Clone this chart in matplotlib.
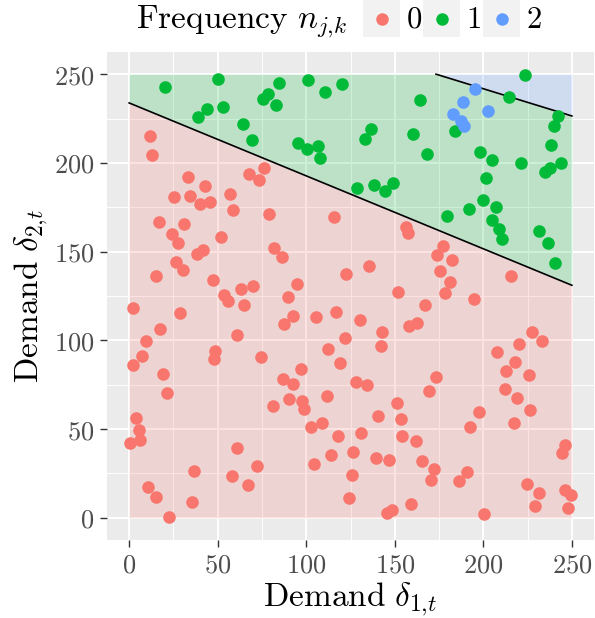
import numpy as np
import matplotlib
matplotlib.use("Agg")
import matplotlib.pyplot as plt
from matplotlib.patches import Rectangle
from matplotlib.lines import Line2D
from matplotlib.ticker import FuncFormatter, MultipleLocator

plt.rcParams['mathtext.fontset'] = 'cm'
plt.rcParams['font.family'] = ['DejaVu Serif']

# ---------------- data ----------------
x0 = [11.9, 12.8, 76.4, 67.7, 73.2, 33.5, 42.9, 25.4, 34.6, 40.2, 45.5, 56.8, 58.7, 79.2, 115.5,
      16.9, 31.2, 24.3, 27.7, 51.7, 38.2, 41.9, 81.6, 86.2, 26.7, 30.3, 15.4, 47.2, 94.6, 122.3,
      63.4, 70.0, 53.8, 89.6,
      56.0, 2.3, 28.8, 64.9, 92.4, 87.7, 105.3, 116.8, 122.1, 17.7, 9.6, 60.9, 7.5, 2.3, 48.5,
      48.1, 74.3, 112.5, 118.9, 19.4, 21.4, 97.1, 86.7, 92.7, 90.5, 97.6, 98.6, 81.1, 111.9, 4.0,
      5.8, 6.4, 0.4, 102.5, 108.9, 118.1, 61.1, 104.2, 114.2, 72.2, 36.7, 58.1, 67.3, 10.5, 14.9,
      35.6, 22.4,
      151.6, 178.3, 194.7, 167.2, 130.2, 157.8, 162.7, 142.6, 142.0, 227.6, 233.1, 220.1, 207.5,
      217.7, 212.8, 225.7, 127.9, 134.3, 173.1, 169.3, 212.4, 219.1, 226.5, 217.3, 151.2, 140.3,
      153.3, 197.3, 192.6, 131.1, 154.1, 162.1, 126.6, 139.4, 146.7, 165.2, 172.3, 170.4, 190.7,
      186.2, 125.8, 124.3, 145.4, 148.4, 159.1, 200.2, 246.4, 244.7, 224.6, 231.2, 229.3, 245.9,
      249.6, 247.7,
      156.1, 157.4, 177.4, 174.0, 182.1, 175.5, 181.2, 135.4, 215.4]
y0 = [215.1, 204.2, 197.3, 193.7, 190.5, 192.2, 186.9, 180.6, 181.5, 176.6, 177.9, 182.4, 173.2, 171.2, 169.3,
      166.5, 165.7, 159.7, 155.0, 158.2, 148.8, 150.7, 152.2, 147.1, 144.3, 139.8, 136.1, 134.2, 131.9, 137.6,
      129.1, 130.5, 125.7, 124.6,
      122.2, 118.1, 115.4, 119.8, 113.9, 109.0, 113.0, 116.0, 101.5, 106.6, 99.7, 103.0, 91.4, 86.0, 94.0,
      89.5, 90.8, 95.2, 87.3, 81.1, 70.6, 83.9, 78.1, 75.3, 66.8, 65.9, 61.4, 63.2, 68.7, 56.1,
      49.7, 44.1, 42.1, 51.2, 53.7, 46.2, 39.4, 30.4, 35.5, 29.3, 26.5, 23.3, 18.4, 17.5, 11.8,
      9.0, 0.2,
      127.4, 126.5, 123.3, 120.1, 111.5, 108.1, 110.0, 104.9, 96.7, 104.6, 99.8, 97.8, 93.3,
      88.0, 82.8, 80.3, 76.4, 74.7, 79.2, 71.5, 72.6, 67.7, 60.6, 53.7, 64.8, 57.6,
      55.9, 59.9, 51.4, 47.9, 46.2, 43.5, 37.3, 33.8, 32.5, 32.1, 27.6, 21.2, 25.9,
      21.0, 24.4, 10.9, 2.6, 4.3, 7.7, 2.4, 41.1, 36.6, 19.1, 14.1, 6.9, 15.6,
      13.0, 5.8,
      164.0, 160.5, 153.2, 148.3, 145.3, 139.1, 132.7, 142.1, 136.4]

x1 = [20.3, 50.4, 84.6, 101.2, 120.4, 110.4, 78.3, 75.6, 83.0, 53.0, 44.2, 38.8, 64.2, 69.6, 95.2,
      100.5, 106.8, 107.6,
      164.2, 223.5, 214.3, 241.9, 239.7, 238.5, 136.4, 133.2, 160.4, 184.0, 168.4, 198.1, 205.0,
      221.4, 243.6, 235.1, 237.8, 201.5, 128.8, 138.3, 144.6, 149.2, 199.6, 206.9, 191.9, 179.3,
      205.0, 209.0, 210.7, 231.7, 236.3, 240.2]
y1 = [242.5, 247.2, 245.3, 246.8, 244.2, 240.0, 239.1, 235.9, 232.5, 231.6, 230.1, 225.8, 222.2, 212.7, 211.5,
      207.8, 209.5, 202.5,
      235.4, 249.4, 237.2, 226.4, 220.6, 210.0, 218.9, 213.6, 216.2, 217.7, 205.3, 206.1, 201.4,
      199.7, 199.9, 195.0, 196.9, 191.3, 185.6, 187.5, 184.3, 188.6, 178.9, 175.1, 174.0, 170.2,
      167.6, 162.6, 157.1, 161.4, 154.7, 143.6]

x2 = [195.4, 188.7, 202.8, 182.7, 187.4, 189.1]
y2 = [241.6, 234.2, 229.0, 227.6, 223.7, 220.9]

categories = ['0', '1', '2']
colors = ['#F8766D', '#00BA38', '#619CFF']

# decision boundaries  y = a + b*x
lower_a, lower_b = 233.8, -0.411
upper_a, upper_b = 303.2, -0.307
dmax = 250

# ---------------- figure ----------------
W, H = 595, 618
fig = plt.figure(figsize=(W / 100, H / 100), dpi=100)
ax = fig.add_axes([107 / W, 1 - 540 / H, (594 - 107) / W, (540 - 52) / H])
ax.set_facecolor('#EBEBEB')
for s in ax.spines.values():
    s.set_visible(False)

ax.set_xlim(-12.5, 262.5)
ax.set_ylim(-12.5, 262.5)
ax.xaxis.set_major_locator(MultipleLocator(50))
ax.yaxis.set_major_locator(MultipleLocator(50))
ax.xaxis.set_minor_locator(MultipleLocator(25))
ax.yaxis.set_minor_locator(MultipleLocator(25))
ax.grid(which='major', color='white', linewidth=1.4, zorder=0)
ax.grid(which='minor', color='white', linewidth=0.7, zorder=0)
ax.set_axisbelow(True)
ax.tick_params(which='minor', length=0)
ax.tick_params(which='major', length=5, width=1.0, color='#333333',
               labelcolor='#4D4D4D', labelsize=19, pad=4)
fmt = FuncFormatter(lambda v, p: r'$%d$' % int(round(v)))
ax.xaxis.set_major_formatter(fmt)
ax.yaxis.set_major_formatter(fmt)

# regions
xs = np.linspace(0, dmax, 501)
low = lower_a + lower_b * xs
up = np.minimum(upper_a + upper_b * xs, dmax)
ax.fill_between(xs, 0, low, color=colors[0], alpha=0.2, linewidth=0, zorder=1)
ax.fill_between(xs, low, up, color=colors[1], alpha=0.2, linewidth=0, zorder=1)
xb0 = (dmax - upper_a) / upper_b
xsb = np.linspace(xb0, dmax, 200)
ax.fill_between(xsb, upper_a + upper_b * xsb, dmax, color=colors[2], alpha=0.2,
                linewidth=0, zorder=1)
ax.plot(xs, low, color='black', linewidth=1.2, zorder=2)
ax.plot(xsb, upper_a + upper_b * xsb, color='black', linewidth=1.2, zorder=2)

# points
for xv, yv, c in [(x0, y0, colors[0]), (x1, y1, colors[1]), (x2, y2, colors[2])]:
    ax.scatter(xv, yv, s=82, color=c, linewidths=0, zorder=3)

ax.set_xlabel(r'$\mathrm{Demand}\ \delta_{1{,}t}$', fontsize=24, labelpad=2)
ax.set_ylabel(r'$\mathrm{Demand}\ \delta_{2{,}t}$', fontsize=24, labelpad=3)

# legend (top, horizontal)
fig.text(136 / W, 1 - 28 / H, r'$\mathrm{Frequency}\ n_{j{,}k}$', fontsize=24,
         ha='left', va='baseline')
key_left = [363, 423, 483]
for kl, lab, c in zip(key_left, categories, colors):
    fig.patches.append(Rectangle((kl / W, 1 - 37 / H), 37 / W, 37 / H,
                                 transform=fig.transFigure, facecolor='#F2F2F2',
                                 edgecolor='none'))
    fig.lines.append(Line2D([(kl + 18.5) / W], [1 - 18.5 / H], marker='o',
                            markersize=9, color=c, markeredgewidth=0,
                            transform=fig.transFigure))
    fig.text((kl + 43) / W, 1 - 28 / H, r'$%s$' % lab, fontsize=22,
             ha='left', va='baseline')

fig.savefig('out.png', dpi=100)
